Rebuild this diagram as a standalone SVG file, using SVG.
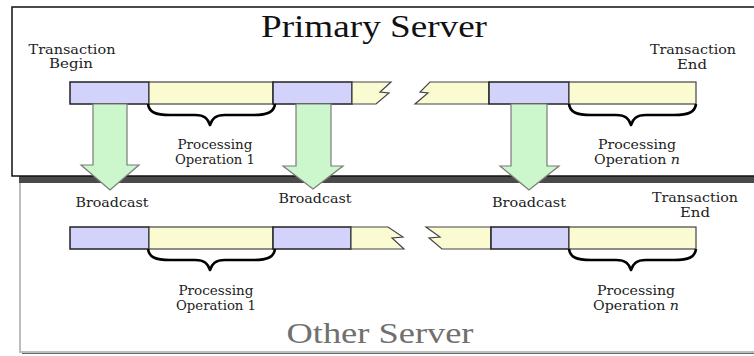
<svg xmlns="http://www.w3.org/2000/svg" xmlns:xlink="http://www.w3.org/1999/xlink" width="754" height="356" viewBox="0 0 754 356">
<style>
.t{font-family:"DejaVu Serif","Liberation Serif",serif;font-size:13px;fill:#222;text-anchor:middle}
.title{font-family:"Liberation Serif","DejaVu Serif",serif;font-size:32px;fill:#111;text-anchor:middle}
.title2{font-family:"Liberation Serif","DejaVu Serif",serif;font-size:30px;fill:#707070;text-anchor:middle}
.blue{fill:#d2d2fa;stroke:#222;stroke-width:1.5}
.yel{fill:#fbfbd2;stroke:#444;stroke-width:1.2}
.arrow{fill:#ccf6cc;stroke:#7a7a7a;stroke-width:1.2}
.brace{fill:none;stroke:#000;stroke-width:2.6;stroke-linejoin:round}
</style>
<defs>
<path id="br" class="brace" d="M0,0 C1,8 7,11 22,11 L47,11 C57,11 60,15 62,21 C64,15 67,11 77,11 L105,11 C120,11 126,8 127,0"/>
</defs>
<rect width="754" height="356" fill="#fff"/>
<g id="other-server">
<rect x="22" y="183" width="740" height="171" fill="#6a6a6a"/>
<rect x="20" y="180" width="740" height="172" fill="#fff" stroke="#bdbdbd" stroke-width="2"/>
<text class="title2" x="380" y="343" textLength="187" lengthAdjust="spacingAndGlyphs">Other Server</text>
</g>
<g id="primary-server">
<rect x="19" y="14" width="740" height="169" fill="#4a4a4a"/>
<rect x="12" y="7" width="745" height="169" fill="#fff" stroke="#111" stroke-width="1.5"/>
<text class="title" x="374" y="37" textLength="226" lengthAdjust="spacingAndGlyphs">Primary Server</text>
</g>
<g id="primary-timeline">
<rect class="blue" x="70" y="82" width="79" height="22"/>
<rect class="yel" x="149" y="82" width="124" height="22"/>
<rect class="blue" x="273" y="82" width="79" height="22"/>
<path class="yel" d="M352,82 L391,82 L380,92 L389,93 L376,104 L352,104 Z"/>
<path class="yel" d="M489,82 L430,82 L420,92 L428,93 L415,104 L489,104 Z"/>
<rect class="blue" x="489" y="82" width="80" height="22"/>
<rect class="yel" x="569" y="82" width="127" height="22"/>
<use xlink:href="#br" x="148" y="104"/>
<use xlink:href="#br" x="569" y="104"/>
</g>
<g id="other-timeline">
<rect class="blue" x="70" y="227" width="79" height="22"/>
<rect class="yel" x="149" y="227" width="124" height="22"/>
<rect class="blue" x="273" y="227" width="78" height="22"/>
<path class="yel" d="M351,227 L388,227 L403,237 L392,238 L404,249 L351,249 Z"/>
<path class="yel" d="M491,227 L426,227 L440,237 L429,238 L442,249 L491,249 Z"/>
<rect class="blue" x="491" y="227" width="78" height="22"/>
<rect class="yel" x="569" y="227" width="127" height="22"/>
<use xlink:href="#br" x="148" y="249"/>
<use xlink:href="#br" x="569" y="249"/>
</g>
<g id="labels-primary">
<text class="t" x="72" y="54" textLength="87" lengthAdjust="spacingAndGlyphs">Transaction</text>
<text class="t" x="71" y="68" textLength="44" lengthAdjust="spacingAndGlyphs">Begin</text>
<text class="t" x="215" y="149" textLength="75" lengthAdjust="spacingAndGlyphs">Processing</text>
<text class="t" x="215" y="164" textLength="80" lengthAdjust="spacingAndGlyphs">Operation 1</text>
<text class="t" x="693" y="54" textLength="86" lengthAdjust="spacingAndGlyphs">Transaction</text>
<text class="t" x="692" y="69" textLength="30" lengthAdjust="spacingAndGlyphs">End</text>
<text class="t" x="637" y="149" textLength="78" lengthAdjust="spacingAndGlyphs">Processing</text>
<text class="t" x="637" y="164" textLength="86" lengthAdjust="spacingAndGlyphs">Operation <tspan font-style="italic">n</tspan></text>
</g>
<g id="labels-other">
<text class="t" x="112" y="207" textLength="73" lengthAdjust="spacingAndGlyphs">Broadcast</text>
<text class="t" x="315" y="203" textLength="73" lengthAdjust="spacingAndGlyphs">Broadcast</text>
<text class="t" x="529" y="207" textLength="74" lengthAdjust="spacingAndGlyphs">Broadcast</text>
<text class="t" x="695" y="202" textLength="86" lengthAdjust="spacingAndGlyphs">Transaction</text>
<text class="t" x="695" y="217" textLength="30" lengthAdjust="spacingAndGlyphs">End</text>
<text class="t" x="216" y="295" textLength="75" lengthAdjust="spacingAndGlyphs">Processing</text>
<text class="t" x="216" y="310" textLength="80" lengthAdjust="spacingAndGlyphs">Operation 1</text>
<text class="t" x="636" y="295" textLength="78" lengthAdjust="spacingAndGlyphs">Processing</text>
<text class="t" x="636" y="310" textLength="86" lengthAdjust="spacingAndGlyphs">Operation <tspan font-style="italic">n</tspan></text>
</g>
<g id="connectors">
<path class="arrow" d="M93,104 L127,104 L127,165 L139,165 L110,190 L81,165 L93,165 Z"/>
<path class="arrow" d="M296,104 L331,104 L331,166 L343,166 L313,189 L283,166 L296,166 Z"/>
<path class="arrow" d="M511,104 L547,104 L547,166 L559,166 L529,190 L500,166 L511,166 Z"/>
</g>
</svg>
